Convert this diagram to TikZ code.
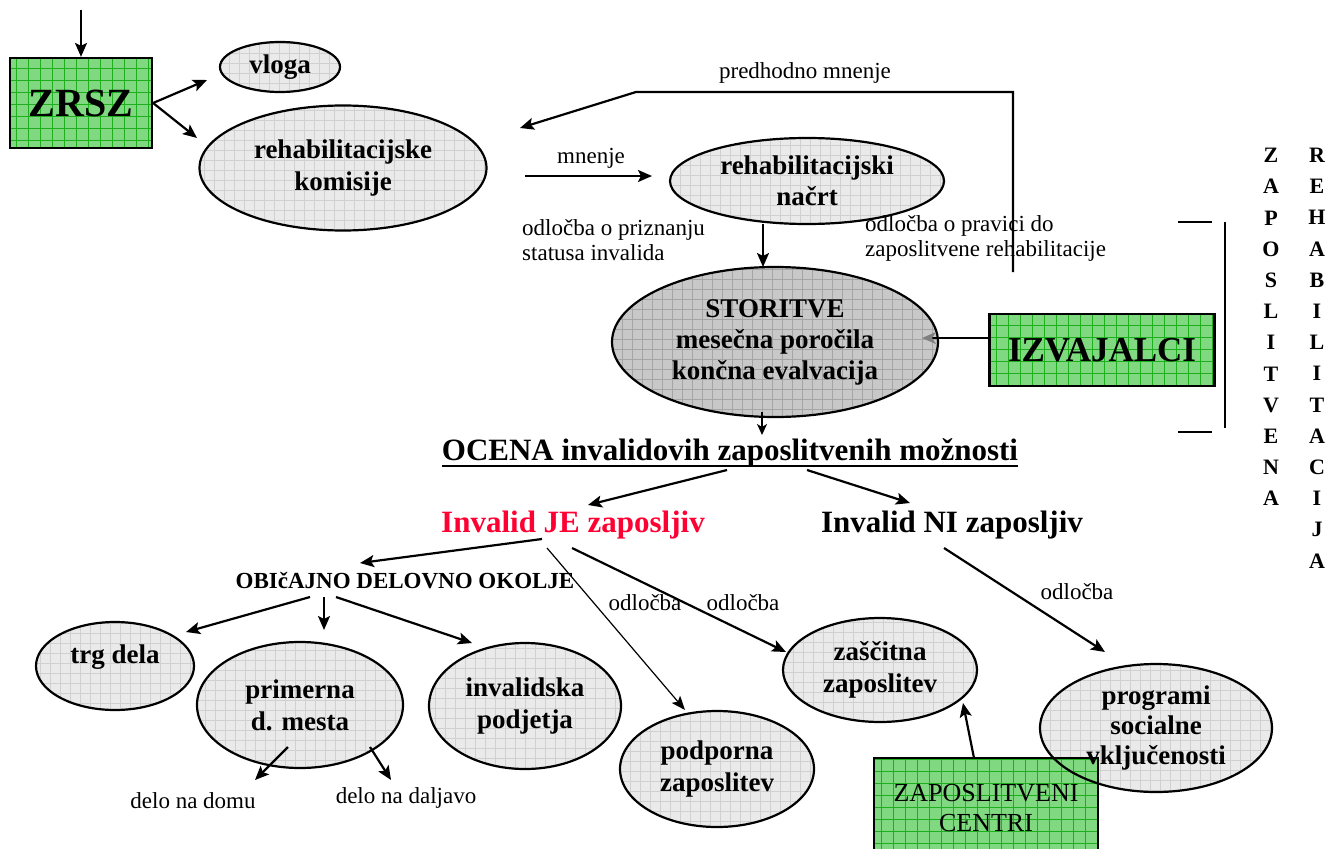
\documentclass[tikz,border=0pt]{standalone}
\usepackage{fontspec}
\setmainfont{Liberation Serif}
\usetikzlibrary{shapes.geometric,arrows.meta,calc}
\definecolor{ellgray}{RGB}{234,234,234}
\definecolor{ellgrid}{RGB}{208,208,208}
\definecolor{storgray}{RGB}{200,200,200}
\definecolor{storgrid}{RGB}{165,165,165}
\definecolor{boxgreen}{RGB}{128,216,128}
\definecolor{gridgreen}{RGB}{30,175,30}
\definecolor{jered}{RGB}{255,0,51}
\newcommand\ellfont{\bfseries\fontsize{27}{32}\selectfont}
\newcommand\lblfont{\fontsize{23}{25}\selectfont}
\begin{document}
\begin{tikzpicture}[x=1pt,y=-1pt,
  ell/.style={ellipse,draw,line width=2.2pt,fill=ellgray,inner sep=0pt,align=center,font=\ellfont,
    path picture={\draw[ellgrid,line width=0.6pt] (path picture bounding box.south west) grid[step=10pt] (path picture bounding box.north east);}},
  ellstor/.style={ell,fill=storgray,
    path picture={\draw[storgrid,line width=0.7pt] (path picture bounding box.south west) grid[step=10pt] (path picture bounding box.north east);}},
  greenbox/.style={rectangle,draw,line width=2.2pt,fill=boxgreen,inner sep=0pt,align=center,
    path picture={\draw[gridgreen,line width=0.7pt] (path picture bounding box.south west) grid[step=12pt] (path picture bounding box.north east);}},
  lbl/.style={font=\lblfont,inner sep=0pt,align=left},
  arr/.style={line width=2.2pt,-{Stealth[length=14pt,width=12pt,inset=3pt]}},
  thinarr/.style={line width=1.2pt,-{Stealth[length=14pt,width=11pt,inset=3pt]}},
  plain/.style={line width=2.2pt},
  vlet/.style={font=\bfseries\fontsize{22}{31.2}\selectfont,inner sep=0pt,align=center}
]
\useasboundingbox (0,0) rectangle (1329,848);

% ---- top part
\node[greenbox,minimum width=142pt,minimum height=90pt,font=\bfseries\fontsize{40}{44}\selectfont] (zrsz) at (81,103) {ZRSZ};
\node[ell,minimum width=120pt,minimum height=50pt] (vloga) at (280,67) {vloga};
\node[ell,minimum width=287pt,minimum height=125pt] (komisije) at (343,168) {rehabilitacijske\\komisije};
\node[ell,minimum width=274pt,minimum height=86pt,font=\bfseries\fontsize{27}{31}\selectfont] (nacrt) at (807,181) {rehabilitacijski\\načrt};
\node[ellstor,minimum width=326pt,minimum height=150pt,font=\bfseries\fontsize{27}{31}\selectfont] (stor) at (775,342) {STORITVE\\mesečna poročila\\končna evalvacija};
\node[greenbox,minimum width=225pt,minimum height=72pt,font=\bfseries\fontsize{35}{40}\selectfont] (izv) at (1102,350) {IZVAJALCI};

\node[lbl,anchor=center] (predh) at (805,73) {predhodno mnenje};
\node[lbl,anchor=base] (mnenje) at (591,163) {mnenje};
\node[lbl,anchor=west] (odl1) at (522,240) {odločba o priznanju\\statusa invalida};
\node[lbl,anchor=west] (odl2) at (865,238) {odločba o pravici do\\zaposlitvene rehabilitacije};

\coordinate (topin) at (81,10);
\coordinate (vlogatip) at (207,80);
\coordinate (komtip) at (197,138);
\coordinate (pmstart) at (1013,272);
\coordinate (pmtop) at (1013,92);
\coordinate (pmbend) at (636,92);
\coordinate (pmtip) at (520,128);
\coordinate (mnA) at (525,176);
\coordinate (mnB) at (652,176);
\coordinate (nacA) at (763,224);
\coordinate (nacB) at (763,267);
\coordinate (izvA) at (990,338);
\coordinate (izvB) at (922,338);
\coordinate (stA) at (762,412);
\coordinate (stB) at (762,435);

\draw[arr] (topin) -- (zrsz.north);
\draw[arr] (zrsz.east) -- (vlogatip);
\draw[arr] (zrsz.east) -- (komtip);
\draw[arr] (pmstart) -- (pmtop) -- (pmbend) -- (pmtip);
\draw[arr] (mnA) -- (mnB);
\draw[arr] (nacA) -- (nacB);
\draw[line width=2.2pt,-{Stealth[length=14pt,width=12pt,inset=4pt,color=gray]}] (izvA) -- (izvB);
\draw[line width=1.6pt,-{Stealth[length=11pt,width=10pt,inset=3pt]}] (stA) -- (stB);

% ---- bracket and vertical text
\coordinate (brT) at (1225,222);
\coordinate (brB) at (1225,428);
\coordinate (tk1a) at (1178,222);
\coordinate (tk1b) at (1212,222);
\coordinate (tk2a) at (1178,432);
\coordinate (tk2b) at (1212,432);
\draw[plain] (brT) -- (brB);
\draw[plain] (tk1a) -- (tk1b);
\draw[plain] (tk2a) -- (tk2b);
\node[vlet] (zcol) at (1271,327) {Z\\A\\P\\O\\S\\L\\I\\T\\V\\E\\N\\A};
\node[vlet] (rcol) at (1317,358) {R\\E\\H\\A\\B\\I\\L\\I\\T\\A\\C\\I\\J\\A};

% ---- middle
\node[font=\bfseries\fontsize{31}{36}\selectfont,anchor=base,inner sep=0pt] (ocena) at (730,460) {OCENA invalidovih zaposlitvenih možnosti};
\draw[line width=2.6pt] ($(ocena.base west)+(0,6)$) -- ($(ocena.base east)+(0,6)$);
\node[font=\bfseries\fontsize{31}{36}\selectfont,anchor=base,inner sep=0pt,text=jered] (je) at (573,532) {Invalid JE zaposljiv};
\node[font=\bfseries\fontsize{31}{36}\selectfont,anchor=base,inner sep=0pt] (ni) at (952,532) {Invalid NI zaposljiv};
\node[font=\bfseries\fontsize{23}{27}\selectfont,anchor=base,inner sep=0pt] (obic) at (405,588) {OBIčAJNO DELOVNO OKOLJE};

\coordinate (ocA) at (727,470);
\coordinate (ocB) at (588,505);
\coordinate (ocC) at (807,470);
\coordinate (ocD) at (910,503);
\draw[arr] (ocA) -- (ocB);
\draw[arr] (ocC) -- (ocD);

% ---- bottom ellipses
\node[ell,minimum width=158pt,minimum height=88pt,text depth=24pt] (trg) at (115,666) {trg dela};
\node[ell,minimum width=206pt,minimum height=126pt] (prim) at (300,705) {primerna\\d. mesta};
\node[ell,minimum width=192pt,minimum height=126pt] (invp) at (525,706) {invalidska\\podjetja};
\node[ell,minimum width=194pt,minimum height=104pt] (zasc) at (880,670) {zaščitna\\zaposlitev};
\node[ell,minimum width=194pt,minimum height=116pt] (podp) at (717,769) {podporna\\zaposlitev};

\path[fill=ellgray,path picture={\draw[ellgrid,line width=0.6pt] (path picture bounding box.south west) grid[step=10pt] (path picture bounding box.north east);}] (1156,728) ellipse [x radius=116, y radius=64];
\node[greenbox,minimum width=224pt,minimum height=100pt,font=\fontsize{26}{30}\selectfont] (zc) at (986,808) {ZAPOSLITVENI\\CENTRI};
\node[ellipse,draw,line width=2.2pt,inner sep=0pt,align=center,font=\bfseries\fontsize{27}{30}\selectfont,minimum width=232pt,minimum height=128pt] (prog) at (1156,728) {programi\\socialne\\vključenosti};

\node[lbl,anchor=base] (odl3) at (645,610) {odločba};
\node[lbl,anchor=base] (odl4) at (743,610) {odločba};
\node[lbl,anchor=base] (odl5) at (1077,599) {odločba};
\node[lbl,anchor=base] (domu) at (193,808) {delo na domu};
\node[lbl,anchor=base] (daljavo) at (406,803) {delo na daljavo};

\coordinate (jeA) at (542,539);
\coordinate (jeB) at (360,563);
\coordinate (jeC) at (547,548);
\coordinate (jeD) at (685,710);
\coordinate (jeE) at (572,548);
\coordinate (jeF) at (786,652);
\coordinate (niA) at (944,548);
\coordinate (niB) at (1105,652);
\coordinate (obA) at (310,597);
\coordinate (obB) at (186,632);
\coordinate (obC) at (324,597);
\coordinate (obD) at (324,630);
\coordinate (obE) at (336,597);
\coordinate (obF) at (472,643);
\coordinate (dmA) at (288,747);
\coordinate (dmB) at (255,780);
\coordinate (djA) at (370,747);
\coordinate (djB) at (391,780);
\coordinate (zcA) at (974,758);
\coordinate (zcB) at (963,703);

\draw[arr] (jeA) -- (jeB);
\draw[thinarr] (jeC) -- (jeD);
\draw[arr] (jeE) -- (jeF);
\draw[arr] (niA) -- (niB);
\draw[arr] (obA) -- (obB);
\draw[arr] (obC) -- (obD);
\draw[arr] (obE) -- (obF);
\draw[arr] (dmA) -- (dmB);
\draw[arr] (djA) -- (djB);
\draw[arr] (zcA) -- (zcB);
\end{tikzpicture}
\end{document}
